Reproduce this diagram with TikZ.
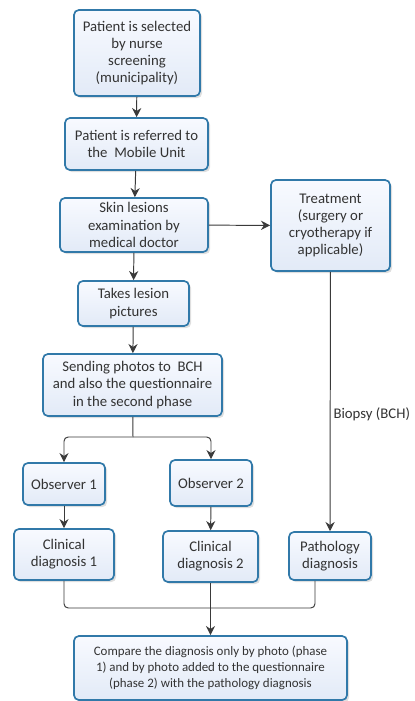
\documentclass[tikz,border=0pt]{standalone}
\usepackage{fontspec}
\setmainfont{Carlito}
\usetikzlibrary{arrows.meta, shadows}

\definecolor{boxline}{HTML}{3179A9}
\definecolor{boxtop}{HTML}{F8FAFF}
\definecolor{boxbottom}{HTML}{E2EAF7}
\definecolor{linkgray}{HTML}{3A3A3A}
\definecolor{textgray}{HTML}{333333}

\begin{document}
\begin{tikzpicture}[x=0.025cm, y=-0.025cm,
        % styles
        box/.style = {
                rectangle, rounded corners=3.5pt, line width=1.2pt,
                draw=boxline, top color=boxtop, bottom color=boxbottom,
                drop shadow={shadow xshift=1.5pt, shadow yshift=-1.5pt, opacity=0.25},
                align=center, inner sep=0pt, text=textgray,
                font=\fontsize{10.5}{12.2}\selectfont
            },
        arrow/.style = {
                draw=linkgray, line width=0.7pt,
                -{Stealth[length=6.5pt, width=6.5pt]}
            },
        link/.style = {
                draw=linkgray, line width=0.7pt, rounded corners=3pt
            }]

    \useasboundingbox (0,0) rectangle (414,701);

    \node (sel) [box, minimum width=3.15cm, minimum height=2.15cm] at (137,53) {Patient is selected\\by nurse\\screening\\(municipality)};
    \node (ref) [box, minimum width=3.575cm, minimum height=1.3cm] at (136.5,144) {Patient is referred to\\the\ \ Mobile Unit};
    \node (skin) [box, minimum width=3.7cm, minimum height=1.35cm] at (134,225) {Skin lesions\\examination by\\medical doctor};
    \node (treat) [box, minimum width=2.975cm, minimum height=2.275cm] at (330.5,225.5) {Treatment\\(surgery or\\cryotherapy if\\applicable)};
    \node (takes) [box, minimum width=2.775cm, minimum height=1.125cm] at (133.5,303.5) {Takes lesion\\pictures};
    \node (send) [box, minimum width=4.475cm, minimum height=1.55cm] at (132.5,385) {Sending photos to\ \ BCH\\and also the questionnaire\\in the second phase};
    \node (obs1) [box, minimum width=2.05cm, minimum height=1.05cm] at (64,484) {Observer 1};
    \node (obs2) [box, minimum width=2.05cm, minimum height=1.15cm] at (211,483) {Observer 2};
    \node (clin1) [box, minimum width=2.5cm, minimum height=1.275cm] at (64,554.5) {Clinical\\diagnosis 1};
    \node (clin2) [box, minimum width=2.375cm, minimum height=1.275cm] at (210.5,556.5) {Clinical\\diagnosis 2};
    \node (path) [box, minimum width=2.05cm, minimum height=1.2cm] at (330,556) {Pathology\\diagnosis};
    \node (comp) [box, minimum width=6.825cm, minimum height=1.6cm,
        font=\fontsize{9.2}{11.4}\selectfont] at (210.5,668)
        {Compare the diagnosis only by photo (phase\\1) and by photo added to the questionnaire\\(phase 2) with the pathology diagnosis};

    \coordinate (split) at (133,437);
    \coordinate (merge) at (210.5,608);

    % arrows
    \draw [arrow] (sel) -- (ref);
    \draw [arrow] (ref) -- (skin);
    \draw [arrow] (skin) -- (treat);
    \draw [arrow] (skin) -- (takes);
    \draw [arrow] (takes) -- (send);
    \draw [link] (send) -- (split);
    \draw [arrow, rounded corners=3pt] (split) -| (obs1);
    \draw [arrow, rounded corners=3pt] (split) -| (obs2);
    \draw [arrow] (obs1) -- (clin1);
    \draw [arrow] (obs2) -- (clin2);
    \draw [arrow] (treat) -- node[pos=0.55, anchor=west, inner sep=2pt, text=textgray,
        font=\fontsize{10.5}{12}\selectfont] {Biopsy (BCH)} (path);
    \draw [link] (clin1.south) |- (merge);
    \draw [link] (clin2.south) -- (merge);
    \draw [link] ([xshift=-0.375cm]path.south) |- (merge);
    \draw [arrow, line width=1.4pt] (merge) -- (comp);

\end{tikzpicture}
\end{document}
